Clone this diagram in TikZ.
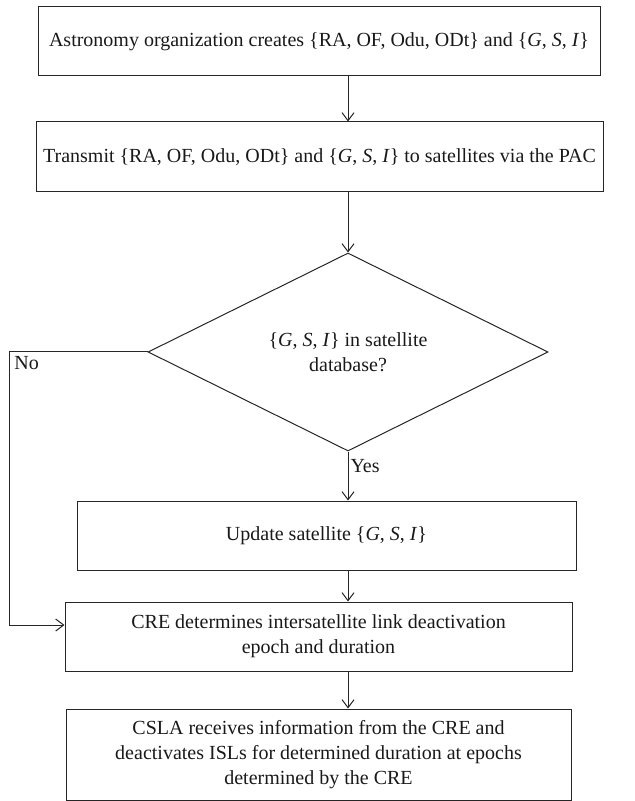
\documentclass[tikz,border=0pt]{standalone}
\usepackage{fontspec}
\setmainfont{Liberation Serif}
\usetikzlibrary{shapes.geometric,arrows.meta,calc}

\newcommand{\gsi}{\{\textit{G}, \textit{S}, \textit{I}\}}

\begin{document}
\begin{tikzpicture}
    [x=0.5pt, y=-0.5pt,
    every node/.style={font=\fontsize{10}{12.5}\selectfont, text=black!90},
    process/.style={draw=black!85, line width=0.5pt, rectangle, align=center, inner sep=0pt},
    decision/.style={draw=black!85, line width=0.5pt, diamond, align=center, inner sep=0pt},
    flow/.style={draw=black!85, line width=0.5pt, -{Straight Barb[length=4pt,width=6pt]}},
    branch/.style={inner sep=1pt}]

    \useasboundingbox (0,0) rectangle (635,801);

    \node [process, minimum width=281pt, minimum height=34.5pt] (create) at (319,41.5)
        {Astronomy organization creates \{RA, OF, Odu, ODt\} and \gsi};
    \node [process, minimum width=283.5pt, minimum height=35pt] (transmit) at (319.5,157)
        {Transmit \{RA, OF, Odu, ODt\} and \gsi\ to satellites via the PAC};
    \node [decision, minimum width=200pt, minimum height=95.5pt] (check) at (348,352)
        {\gsi\ in satellite\\database?};
    \node [process, minimum width=249.5pt, minimum height=34.5pt] (update) at (326.5,535.5)
        {Update satellite \gsi};
    \node [process, minimum width=253.5pt, minimum height=34.5pt] (cre) at (318.5,636.5)
        {CRE determines intersatellite link deactivation\\epoch and duration};
    \node [process, minimum width=252.5pt, minimum height=45.5pt] (csla) at (318.5,754.5)
        {CSLA receives information from the CRE and\\deactivates ISLs for determined duration at epochs\\determined by the CRE};

    % main line
    \draw [flow] (create.south -| check.north) -- (transmit.north -| check.north);
    \draw [flow] (transmit.south -| check.north) -- (check.north);
    \draw [flow] (check.south) -- (update.north -| check.south)
        node [branch, pos=0.3, anchor=west] (yes) {Yes};
    \draw [flow] (update.south -| check.south) -- (cre.north -| check.south);
    \draw [flow] (cre.south -| check.south) -- (csla.north -| check.south);

    % no branch
    \coordinate (noturn) at (9,352);
    \coordinate (noin) at ($(cre.west)+(0,-11.5)$);
    \draw [flow] (check.west) -- (noturn) |- (noin);
    \node [branch, anchor=north west] (no) at ($(noturn)+(3,2)$) {No};
\end{tikzpicture}
\end{document}
